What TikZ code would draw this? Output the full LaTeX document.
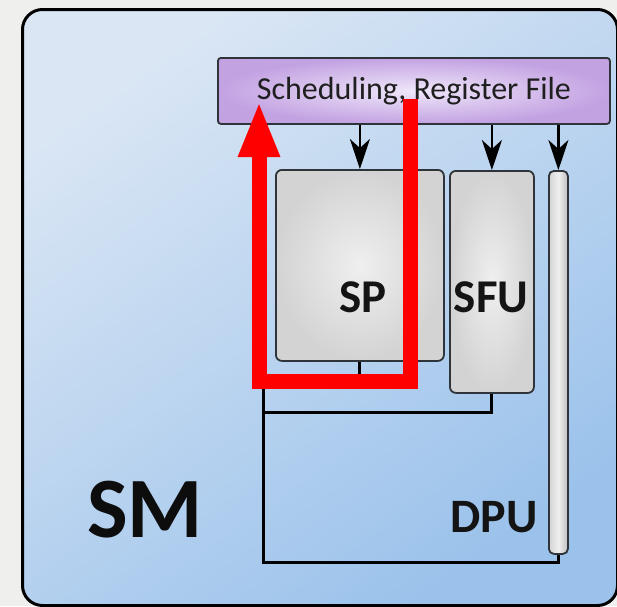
\documentclass[tikz,border=0pt]{standalone}
\usepackage{fontspec}
\setmainfont{Carlito}
\usetikzlibrary{arrows.meta, positioning, calc}
\definecolor{PageBg}{HTML}{EFEFEE}
\definecolor{SMLight}{HTML}{DAE6F4}
\definecolor{SMDark}{HTML}{9BC2EB}
\definecolor{SchedIn}{HTML}{EFE7F9}
\definecolor{SchedOut}{HTML}{C3A2E2}
\definecolor{UnitIn}{HTML}{EFEFEF}
\definecolor{UnitOut}{HTML}{D3D3D3}
\definecolor{UnitLine}{HTML}{2E3439}

\tikzset{
  smbox/.style={draw=black, line width=3pt, rounded corners=20pt,
    top color=SMLight, bottom color=SMDark, shading angle=35, anchor=north west},
  schedbox/.style={draw=UnitLine, line width=1.8pt, rounded corners=3pt,
    inner color=SchedIn, outer color=SchedOut, anchor=north west,
    font=\fontsize{32}{32}\selectfont, text=black!88},
  unitbox/.style={draw=UnitLine, line width=1.8pt, rounded corners=6pt,
    inner color=UnitIn, outer color=UnitOut, anchor=north west},
  unitlabel/.style={font=\bfseries\fontsize{47}{47}\selectfont, text=black!92, anchor=base},
  feed/.style={-{Stealth[length=30pt,width=20pt,inset=9pt]}, line width=2.5pt, black},
  bus/.style={line width=3pt, black},
  redflow/.style={line width=15pt, red, -{Triangle[length=56pt,width=38pt]}},
}

\begin{document}
\begin{tikzpicture}[x=1pt, y=-1pt]
  \useasboundingbox (0,0) rectangle (617,606);
  \fill[PageBg] (0,0) rectangle (617,606);

  % SM frame
  \node[smbox, minimum width=595pt, minimum height=596pt] (sm) at (21,8) {};
  \node[font=\bfseries\fontsize{86}{86}\selectfont, text=black!95, anchor=base] (smlabel) at (145,537) {SM};

  % scheduling and units
  \node[schedbox, minimum width=392pt, minimum height=66pt] (sched) at (217,57) {Scheduling, Register File};
  \node[unitbox, minimum width=168pt, minimum height=191pt] (sp) at (275,169) {};
  \node[unitbox, minimum width=84pt, minimum height=222pt] (sfu) at (449,170) {};
  \node[draw=UnitLine, line width=1.8pt, rounded corners=5pt, anchor=north west,
    left color=UnitOut, right color=UnitOut!90!black, middle color=UnitIn,
    minimum width=19pt, minimum height=383pt] (dpu) at (548,170) {};

  \node[unitlabel] (splabel) at (363,312) {SP};
  \node[unitlabel] (sfulabel) at (491,312) {SFU};
  \node[unitlabel, font=\bfseries\fontsize{48}{48}\selectfont] (dpulabel) at (494,532) {DPU};

  % feeds from the register file
  \foreach \u in {sp, sfu, dpu}
    \draw[feed] (\u.north |- sched.south) -- (\u.north);

  % result bus
  \coordinate (busleft) at (263,381);
  \coordinate (sfujoin) at (263,412);
  \coordinate (busbottom) at (263,562);
  \draw[bus] (sp.south) |- (busleft) -- (busbottom) -| (dpu.south);
  \draw[bus] (sfu.south) |- (sfujoin);

  % red loop
  \coordinate (redtop) at (410,99);
  \coordinate (redcorner) at (410,381);
  \coordinate (redtip) at (259,101);
  \draw[redflow] (redtop) -- (redcorner) -| (redtip);
\end{tikzpicture}
\end{document}
